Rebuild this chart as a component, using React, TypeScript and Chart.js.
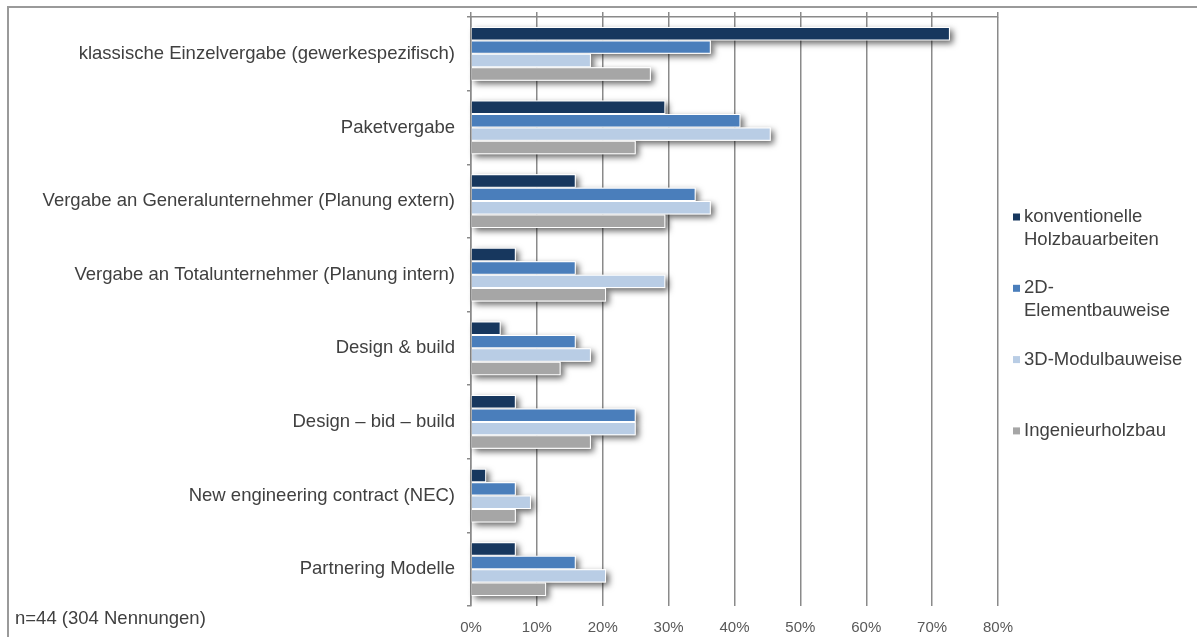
import React, { useEffect, useRef } from 'react';
import { Chart, registerables } from 'chart.js';

Chart.register(...registerables);

const categories = [
  'klassische Einzelvergabe (gewerkespezifisch)',
  'Paketvergabe',
  'Vergabe an Generalunternehmer (Planung extern)',
  'Vergabe an Totalunternehmer (Planung intern)',
  'Design & build',
  'Design – bid – build',
  'New engineering contract (NEC)',
  'Partnering Modelle',
];

const seriesLabels = [
  ['konventionelle', 'Holzbauarbeiten'],
  ['2D-', 'Elementbauweise'],
  ['3D-Modulbauweise'],
  ['Ingenieurholzbau'],
];

const konventionelle = [72.7, 29.5, 15.9, 6.8, 4.5, 6.8, 2.3, 6.8];
const element2D = [36.4, 40.9, 34.1, 15.9, 15.9, 25.0, 6.8, 15.9];
const modul3D = [18.2, 45.5, 36.4, 29.5, 18.2, 25.0, 9.1, 20.5];
const ingenieur = [27.3, 25.0, 29.5, 20.5, 13.6, 18.2, 6.8, 11.4];

const xTickValues = [0, 10, 20, 30, 40, 50, 60, 70, 80];
const footnote = 'n=44 (304 Nennungen)';

const colors = ['#17375E', '#4A7EBB', '#B9CDE5', '#A6A6A6'];
const FONT = "'Liberation Sans', Arial, sans-serif";
const GRID = '#8a8a8a';

const shadowPlugin = {
  id: 'barShadow',
  beforeDatasetsDraw(chart: any) {
    const ctx = chart.ctx;
    ctx.save();
    ctx.shadowColor = 'rgba(0,0,0,0.6)';
    ctx.shadowBlur = 6;
    ctx.shadowOffsetX = 3;
    ctx.shadowOffsetY = 3;
    ctx.fillStyle = '#ffffff';
    chart.getSortedVisibleDatasetMetas().forEach((meta: any) => {
      meta.data.forEach((el: any) => {
        const { x, y, base, height } = el.getProps(['x', 'y', 'base', 'height'], true);
        const left = Math.min(x, base);
        const w = Math.abs(x - base);
        ctx.fillRect(left, y - height / 2, w, height);
      });
    });
    ctx.restore();
  },
};

const decorPlugin = {
  id: 'decor',
  afterDraw(chart: any) {
    const ctx = chart.ctx;
    const area = chart.chartArea;
    ctx.save();
    // outer frame
    ctx.strokeStyle = '#9a9a9a';
    ctx.lineWidth = 2;
    ctx.beginPath();
    ctx.moveTo(8, chart.height);
    ctx.lineTo(8, 7);
    ctx.lineTo(chart.width, 7);
    ctx.stroke();

    // legend
    ctx.font = `18.5px ${FONT}`;
    ctx.textBaseline = 'middle';
    ctx.textAlign = 'left';
    const startY = 217;
    const pitch = 71.3;
    seriesLabels.forEach((lines, i) => {
      const y0 = startY + i * pitch;
      ctx.fillStyle = colors[i];
      ctx.fillRect(area.right + 15, y0 - 3.5, 7, 7);
      ctx.fillStyle = '#404040';
      lines.forEach((line, j) => {
        ctx.fillText(line, area.right + 26, y0 + j * 23);
      });
    });

    // footnote
    ctx.fillStyle = '#404040';
    ctx.fillText(footnote, 15, 619);
    ctx.restore();
  },
};

export default function App() {
  const canvasRef = useRef<HTMLCanvasElement | null>(null);

  useEffect(() => {
    if (!canvasRef.current) return;
    const seriesData = [konventionelle, element2D, modul3D, ingenieur];
    const chart = new Chart(canvasRef.current, {
      type: 'bar',
      data: {
        labels: categories,
        datasets: seriesData.map((d, i) => ({
          label: seriesLabels[i].join(' '),
          data: d,
          backgroundColor: colors[i],
          borderColor: '#ffffff',
          borderWidth: 1,
          categoryPercentage: 0.73,
          barPercentage: 1,
        })),
      },
      options: {
        indexAxis: 'y',
        responsive: false,
        animation: false,
        events: [],
        layout: { padding: { left: 0, right: 199, top: 12, bottom: 0 } },
        plugins: {
          legend: { display: false },
          tooltip: { enabled: false },
        },
        scales: {
          x: {
            position: 'bottom',
            min: 0,
            max: 80,
            afterBuildTicks: (scale: any) => {
              scale.ticks = xTickValues.map((v) => ({ value: v }));
            },
            grid: { color: GRID, lineWidth: 1.5, drawTicks: false },
            border: { display: false },
            ticks: {
              callback: (v: any) => `${v}%`,
              font: { size: 15, family: FONT },
              color: '#595959',
              padding: 13,
              maxRotation: 0,
            },
            afterFit: (scale: any) => {
              scale.height = 31;
              scale.paddingLeft = 0;
              scale.paddingRight = 0;
            },
          },
          x2: {
            axis: 'x',
            position: 'top',
            min: 0,
            max: 80,
            afterBuildTicks: (scale: any) => {
              scale.ticks = xTickValues.map((v) => ({ value: v }));
            },
            grid: { color: GRID, lineWidth: 1.5, drawOnChartArea: false, tickLength: 5 },
            border: { display: true, color: GRID, width: 1.5 },
            ticks: { display: false },
            afterFit: (scale: any) => {
              scale.height = 5;
              scale.paddingLeft = 0;
              scale.paddingRight = 0;
            },
          },
          y: {
            type: 'category',
            grid: { color: GRID, lineWidth: 1.5, drawOnChartArea: false, tickLength: 4, offset: true },
            border: { display: true, color: GRID, width: 1.5 },
            ticks: {
              font: { size: 18.5, family: FONT },
              color: '#404040',
              padding: 12,
            },
            afterFit: (scale: any) => {
              scale.width = 471;
              scale.paddingTop = 0;
              scale.paddingBottom = 0;
            },
          },
        },
      } as any,
      plugins: [shadowPlugin, decorPlugin],
    });
    return () => chart.destroy();
  }, []);

  return (
    <div style={{ position: 'absolute', left: 0, top: 0, width: 1197, height: 637, background: '#ffffff' }}>
      <canvas ref={canvasRef} width={1197} height={637} />
    </div>
  );
}
